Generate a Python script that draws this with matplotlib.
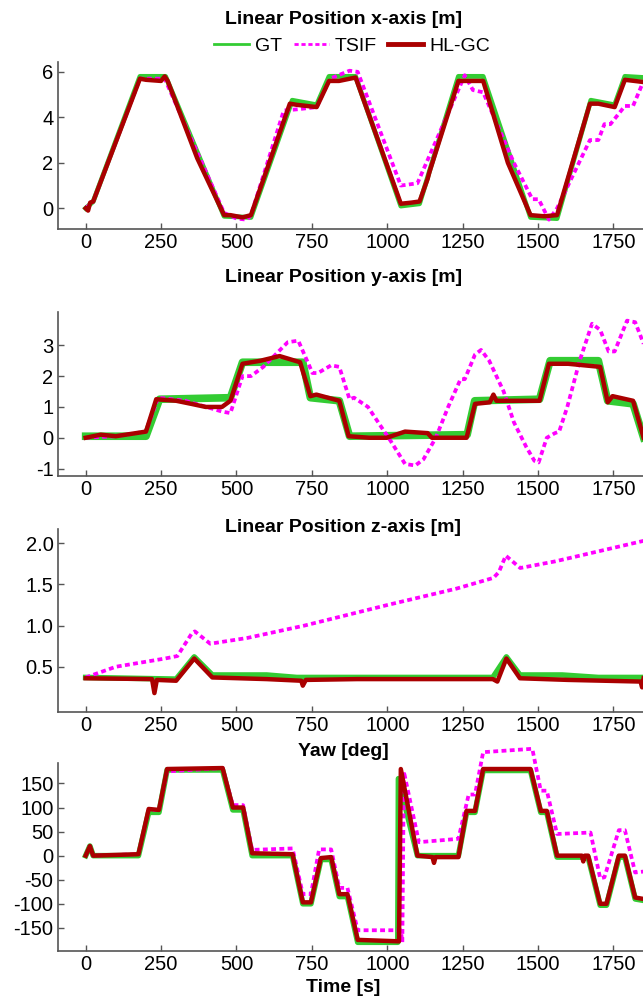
import matplotlib
matplotlib.use("Agg")
import matplotlib.pyplot as plt
from matplotlib.lines import Line2D

plt.rcParams['font.family'] = ['Liberation Sans', 'DejaVu Sans']

GREEN = '#33cc33'
MAGENTA = '#ff00ff'
DARKRED = '#aa0000'

# ---- x position [m] ----
t_x_gt = [0, 25, 180, 265, 459, 548, 685, 766, 807, 895, 1045, 1107, 1236,
          1318, 1475, 1563, 1675, 1754, 1788, 1850]
x_gt = [0, 0.3, 5.8, 5.8, -0.35, -0.4, 4.75, 4.55, 5.8, 5.8, 0.1, 0.2, 5.8,
        5.8, -0.4, -0.45, 4.75, 4.55, 5.8, 5.75]

t_x_tsif = [0, 25, 180, 262, 459, 500, 535, 548, 657, 700, 766, 810, 875, 902,
            1045, 1100, 1257, 1284, 1318, 1420, 1481, 1502, 1536, 1563, 1672,
            1700, 1720, 1740, 1788, 1815, 1850]
x_tsif = [0, 0.3, 5.7, 5.7, -0.2, -0.45, -0.5, -0.3, 4.3, 4.35, 4.45, 5.7, 6.05,
          6.0, 1.0, 1.1, 5.85, 5.2, 5.1, 2.0, 0.4, 0.4, -0.5, 0.0, 3.0, 3.0,
          3.7, 3.7, 4.5, 4.5, 5.6]

t_x_hl = [0, 8, 15, 25, 180, 200, 250, 262, 272, 370, 459, 480, 520, 548, 677,
          700, 766, 807, 840, 895, 1045, 1080, 1107, 1134, 1140, 1236, 1260,
          1318, 1400, 1475, 1520, 1563, 1672, 1700, 1754, 1788, 1820, 1850]
x_hl = [0, -0.1, 0.25, 0.3, 5.7, 5.65, 5.6, 5.8, 5.6, 2.2, -0.3, -0.3, -0.4,
        -0.3, 4.6, 4.55, 4.45, 5.6, 5.6, 5.75, 0.2, 0.25, 0.3, 1.3, 1.6, 5.6,
        5.6, 5.6, 2.0, -0.3, -0.35, -0.3, 4.6, 4.6, 4.45, 5.65, 5.6, 5.55]

# ---- y position [m] ----
t_y_gt = [0, 200, 245, 480, 520, 720, 745, 841, 875, 1265, 1290, 1505, 1540,
          1700, 1731, 1815, 1850]
y_gt = [0.05, 0.05, 1.25, 1.3, 2.45, 2.45, 1.3, 1.2, 0.05, 0.1, 1.2, 1.25, 2.5,
        2.5, 1.2, 1.1, 0.0]

t_y_tsif = [0, 100, 200, 240, 330, 400, 452, 480, 520, 548, 589, 670, 705, 752,
            770, 814, 841, 875, 890, 936, 970, 1011, 1059, 1093, 1120, 1161,
            1202, 1243, 1257, 1291, 1311, 1338, 1386, 1420, 1461, 1488, 1502,
            1529, 1556, 1570, 1597, 1638, 1679, 1706, 1734, 1754, 1795, 1822,
            1850]
y_tsif = [0.0, 0.05, 0.2, 1.3, 1.2, 1.0, 0.85, 0.8, 2.0, 2.0, 2.3, 3.1, 3.15,
          2.1, 2.1, 2.35, 2.3, 1.25, 1.3, 1.0, 0.5, -0.1, -0.85, -0.9, -0.7,
          0.0, 1.0, 1.9, 1.9, 2.7, 2.85, 2.5, 1.5, 0.5, -0.3, -0.75, -0.8, 0.0,
          0.15, 0.2, 1.0, 2.5, 3.7, 3.5, 2.8, 2.8, 3.8, 3.75, 3.05]

t_y_hl = [0, 50, 100, 200, 234, 300, 350, 398, 452, 480, 520, 580, 643, 711,
          745, 765, 841, 872, 940, 998, 1059, 1134, 1148, 1263, 1291, 1340,
          1352, 1362, 1505, 1536, 1600, 1706, 1731, 1747, 1815, 1850]
y_hl = [0.0, 0.1, 0.05, 0.2, 1.25, 1.2, 1.1, 1.0, 1.0, 1.2, 2.4, 2.5, 2.65,
        2.45, 1.35, 1.4, 1.2, 0.05, 0.0, 0.0, 0.2, 0.15, 0.0, 0.0, 1.1, 1.15,
        1.4, 1.2, 1.2, 2.4, 2.4, 2.3, 1.15, 1.35, 1.2, 0.0]

# ---- z position [m] ----
t_z_gt = [0, 300, 360, 420, 600, 700, 1350, 1395, 1440, 1580, 1700, 1850]
z_gt = [0.37, 0.35, 0.62, 0.4, 0.4, 0.37, 0.37, 0.62, 0.4, 0.4, 0.37, 0.37]

t_z_tsif = [0, 100, 263, 304, 351, 362, 413, 536, 725, 1000, 1230, 1352, 1370,
            1393, 1441, 1556, 1850]
z_tsif = [0.37, 0.5, 0.6, 0.63, 0.9, 0.93, 0.78, 0.85, 1.0, 1.25, 1.45, 1.58,
          1.65, 1.85, 1.7, 1.78, 2.03]

t_z_hl = [0, 220, 228, 236, 300, 360, 420, 600, 715, 720, 730, 900, 1350, 1365,
          1395, 1440, 1600, 1840, 1845, 1850]
z_hl = [0.36, 0.35, 0.18, 0.34, 0.33, 0.6, 0.37, 0.35, 0.33, 0.27, 0.34, 0.35,
        0.35, 0.32, 0.6, 0.36, 0.34, 0.32, 0.25, 0.36]

# ---- yaw [deg] ----
t_yaw_gt = [0, 14, 25, 175, 209, 243, 270, 454, 488, 522, 552, 686, 720, 747,
            780, 814, 841, 868, 902, 1035, 1037, 1100, 1236, 1263, 1291, 1318,
            1475, 1509, 1529, 1563, 1666, 1706, 1727, 1768, 1788, 1822, 1850]
yaw_gt = [0, 20, 0, 0, 90, 90, 178, 178, 95, 95, 0, 0, -100, -100, -8, -8, -85,
          -85, -180, -180, 160, 0, 0, 90, 90, 177, 177, 90, 90, -3, -3, -103,
          -103, -3, -3, -90, -93]

t_yaw_tsif = [0, 14, 25, 175, 209, 243, 270, 454, 488, 522, 552, 686, 720, 747,
              774, 814, 841, 868, 902, 1045, 1050, 1055, 1105, 1236, 1270, 1291,
              1318, 1481, 1509, 1529, 1563, 1674, 1706, 1720, 1768, 1788, 1822,
              1850]
yaw_tsif = [0, 20, 0, 3, 95, 95, 175, 182, 105, 105, 12, 15, -80, -80, 13, 13,
            -67, -67, -155, -155, -180, 175, 28, 35, 127, 127, 215, 222, 135,
            135, 45, 48, -47, -45, 53, 53, -35, -33]

t_yaw_hl = [0, 14, 25, 175, 209, 243, 270, 454, 488, 522, 552, 686, 720, 747,
            780, 814, 841, 868, 902, 1039, 1045, 1100, 1150, 1155, 1160, 1236,
            1263, 1291, 1318, 1475, 1509, 1529, 1563, 1645, 1650, 1655, 1666,
            1706, 1727, 1768, 1788, 1822, 1850]
yaw_hl = [0, 20, 0, 3, 97, 95, 180, 182, 100, 100, 5, 3, -97, -97, -5, -3, -80,
          -80, -175, -178, 180, 0, -3, -15, -3, -3, 93, 93, 180, 180, 93, 93, 0,
          0, -12, 0, 0, -100, -100, 0, 0, -87, -90]

time_ticks = [0, 250, 500, 750, 1000, 1250, 1500, 1750]

panels = [
    dict(rect=[0.0896, 0.771, 0.9104, 0.167], ylim=(-0.92, 6.43),
         yticks=[0, 2, 4, 6], fmt='{:g}',
         gt=(t_x_gt, x_gt), tsif=(t_x_tsif, x_tsif), hl=(t_x_hl, x_hl),
         gt_lw=3.5),
    dict(rect=[0.0896, 0.5245, 0.9104, 0.1635], ylim=(-1.24, 4.07),
         yticks=[-1, 0, 1, 2, 3], fmt='{:g}',
         gt=(t_y_gt, y_gt), tsif=(t_y_tsif, y_tsif), hl=(t_y_hl, y_hl),
         gt_lw=5.5),
    dict(rect=[0.0896, 0.2887, 0.9104, 0.1825], ylim=(-0.05, 2.17),
         yticks=[0.5, 1.0, 1.5, 2.0], fmt='{:.1f}',
         gt=(t_z_gt, z_gt), tsif=(t_z_tsif, z_tsif), hl=(t_z_hl, z_hl),
         gt_lw=4),
    dict(rect=[0.0896, 0.05, 0.9104, 0.188], ylim=(-198, 193),
         yticks=[-150, -100, -50, 0, 50, 100, 150], fmt='{:g}',
         gt=(t_yaw_gt, yaw_gt), tsif=(t_yaw_tsif, yaw_tsif),
         hl=(t_yaw_hl, yaw_hl), gt_lw=4),
]

fig = plt.figure(figsize=(6.43, 10.01), dpi=100)

for p in panels:
    ax = fig.add_axes(p['rect'])
    ax.plot(*p['gt'], color=GREEN, lw=p['gt_lw'], clip_on=False)
    ax.plot(*p['tsif'], color=MAGENTA, lw=2.7, dashes=(1.3, 0.9),
            clip_on=False)
    ax.plot(*p['hl'], color=DARKRED, lw=3.2, clip_on=False)
    ax.set_xlim(-93, 1848)
    ax.set_ylim(*p['ylim'])
    ax.set_xticks(time_ticks)
    ax.set_xticklabels([str(t) for t in time_ticks])
    ax.set_yticks(p['yticks'])
    ax.set_yticklabels([p['fmt'].format(v) for v in p['yticks']])
    for side in ['top', 'right']:
        ax.spines[side].set_visible(False)
    for side in ['left', 'bottom']:
        ax.spines[side].set_color('#555555')
        ax.spines[side].set_linewidth(1.2)
    ax.tick_params(direction='in', length=4, width=1, color='#555555',
                   labelsize=14.5, pad=3)

title_kw = dict(ha='center', va='center', fontsize=14, fontweight='bold')
fig.text(0.534, 1 - 19 / 1001, 'Linear Position x-axis [m]', **title_kw)
fig.text(0.534, 1 - 278 / 1001, 'Linear Position y-axis [m]', **title_kw)
fig.text(0.534, 1 - 527 / 1001, 'Linear Position z-axis [m]', **title_kw)
fig.text(0.534, 1 - 751 / 1001, 'Yaw [deg]', **title_kw)
fig.text(0.534, 1 - 988 / 1001, 'Time [s]', **title_kw)

handles = [
    Line2D([], [], color=GREEN, lw=2),
    Line2D([], [], color=MAGENTA, lw=2, dashes=(1.5, 1)),
    Line2D([], [], color=DARKRED, lw=3.5),
]
fig.legend(handles, ['GT', 'TSIF', 'HL-GC'], loc='center',
           bbox_to_anchor=(352 / 643, 1 - 46 / 1001), ncol=3, frameon=False,
           fontsize=14, handlelength=1.8, handletextpad=0.3,
           columnspacing=0.6, borderpad=0, borderaxespad=0)

fig.savefig('out.png', dpi=100)
